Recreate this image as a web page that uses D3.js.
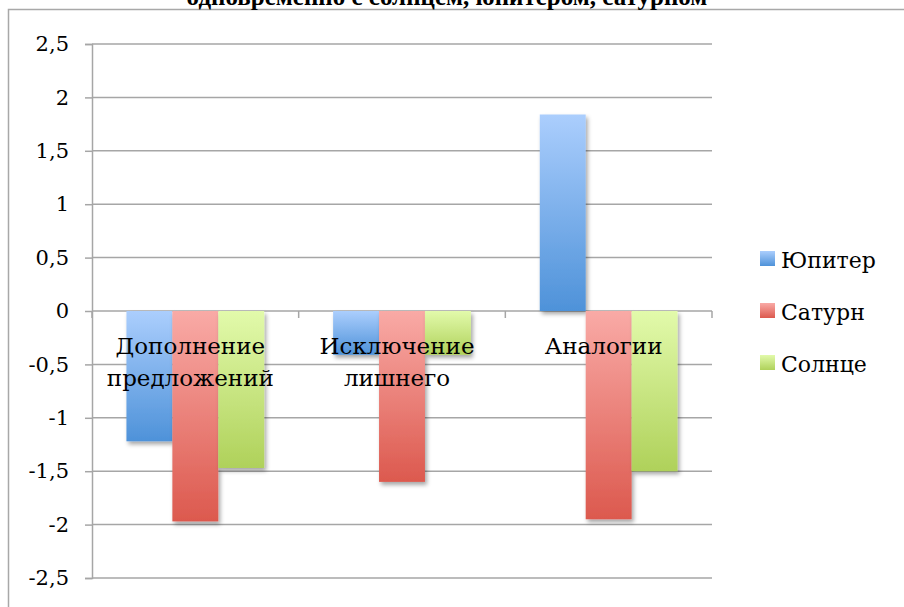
<!DOCTYPE html>
<html>
<head>
<meta charset="utf-8">
<script src="https://cdn.jsdelivr.net/npm/d3@7/dist/d3.min.js"></script>
<style>
  html, body { margin: 0; padding: 0; background: #fff; overflow: hidden; }
  svg { display: block; }
</style>
</head>
<body>
<svg id="chart" width="904" height="607"></svg>
<script>
const categories = [["Дополнение", "предложений"], ["Исключение", "лишнего"], ["Аналогии"]];
const seriesNames = ["Юпитер", "Сатурн", "Солнце"];
const jupiter = [-1.22, -0.41, 1.84];
const saturn = [-1.97, -1.6, -1.95];
const sun = [-1.47, -0.41, -1.5];
const tickValues = [2.5, 2, 1.5, 1, 0.5, 0, -0.5, -1, -1.5, -2, -2.5];
const titleText = "одновременно  с солнцем, юпитером, сатурном";

(function () {
const seriesValues = [jupiter, saturn, sun];
const gradients = [["#abcefd", "#4e92d9"], ["#f9aaa6", "#dc594e"], ["#e2faab", "#afd15a"]];

const svg = d3.select("#chart");
const pLeft = 92, pRight = 712, pTop = 44, pBottom = 578;
const serif = "'DejaVu Serif', serif";

const defs = svg.append("defs");
gradients.forEach((g, i) => {
  const lg = defs.append("linearGradient").attr("id", "grad" + i)
    .attr("x1", 0).attr("y1", 0).attr("x2", 0).attr("y2", 1);
  lg.append("stop").attr("offset", "0%").attr("stop-color", g[0]);
  lg.append("stop").attr("offset", "100%").attr("stop-color", g[1]);
});
const f = defs.append("filter").attr("id", "shadow").attr("x", "-20%").attr("y", "-20%").attr("width", "150%").attr("height", "150%");
f.append("feDropShadow").attr("dx", 2).attr("dy", 3).attr("stdDeviation", 2)
  .attr("flood-color", "#000").attr("flood-opacity", 0.35);

// outer border
svg.append("rect").attr("x", 8.5).attr("y", 9.5).attr("width", 920).attr("height", 620)
  .attr("fill", "none").attr("stroke", "#a8a8a8").attr("stroke-width", 1.5);

// title (partially cut off, as in the reference)
svg.append("text").attr("x", 447).attr("y", 5).attr("text-anchor", "middle")
  .attr("font-family", "'Liberation Serif', serif").attr("font-weight", "bold")
  .attr("font-size", 25).attr("fill", "#000").text(titleText);

const y = d3.scaleLinear().domain([-2.5, 2.5]).range([pBottom, pTop]);
const x = d3.scaleBand().domain(d3.range(categories.length)).range([pLeft, pRight]).padding(0);
const bw = x.bandwidth();
const xs = d3.scaleBand().domain(d3.range(seriesNames.length)).range([bw / 6, bw * 5 / 6]).padding(0);

// gridlines
svg.append("g").selectAll("line").data(tickValues).join("line")
  .attr("x1", pLeft).attr("x2", pRight)
  .attr("y1", d => y(d)).attr("y2", d => y(d))
  .attr("stroke", "#a6a6a6").attr("stroke-width", 1.5);

// y axis
const yAxis = d3.axisLeft(y).tickValues(tickValues).tickSize(7).tickPadding(16)
  .tickFormat(d => String(d).replace(".", ","));
const ga = svg.append("g").attr("transform", `translate(${pLeft},0)`).call(yAxis);
ga.select(".domain").attr("stroke", "#a6a6a6").attr("stroke-width", 1.5);
ga.selectAll(".tick line").attr("stroke", "#a6a6a6").attr("stroke-width", 1.5);
ga.selectAll(".tick text").attr("font-family", serif).attr("font-size", 21).attr("fill", "#000");

// category ticks on zero line
const boundaries = d3.range(categories.length + 1).map(i => pLeft + i * bw);
svg.append("g").selectAll("line").data(boundaries).join("line")
  .attr("x1", d => d).attr("x2", d => d)
  .attr("y1", y(0)).attr("y2", y(0) + 7)
  .attr("stroke", "#a6a6a6").attr("stroke-width", 1.5);

// bars
const barData = [];
categories.forEach((c, ci) => {
  seriesValues.forEach((vals, si) => barData.push({ ci, si, v: vals[ci] }));
});
svg.append("g").selectAll("rect").data(barData).join("rect")
  .attr("x", d => x(d.ci) + xs(d.si))
  .attr("width", xs.bandwidth())
  .attr("y", d => y(Math.max(0, d.v)))
  .attr("height", d => Math.abs(y(d.v) - y(0)))
  .attr("fill", d => `url(#grad${d.si})`)
  .attr("filter", "url(#shadow)");

// category labels
const lab = svg.append("g").selectAll("text").data(categories).join("text")
  .attr("text-anchor", "middle")
  .attr("font-family", serif).attr("font-size", 23).attr("fill", "#000");
lab.each(function (lines, i) {
  const t = d3.select(this);
  lines.forEach((ln, k) => {
    t.append("tspan").attr("x", x(i) + bw / 2 - 5).attr("y", 354 + k * 32).text(ln);
  });
});

// legend
const lg = svg.append("g").selectAll("g").data(seriesNames).join("g")
  .attr("transform", (d, i) => `translate(760,${251 + i * 52})`);
lg.append("rect").attr("width", 15).attr("height", 15).attr("fill", (d, i) => `url(#grad${i})`);
lg.append("text").attr("x", 21).attr("y", 17).attr("font-family", serif).attr("font-size", 22)
  .attr("fill", "#000").text(d => d);
})();
</script>
</body>
</html>
